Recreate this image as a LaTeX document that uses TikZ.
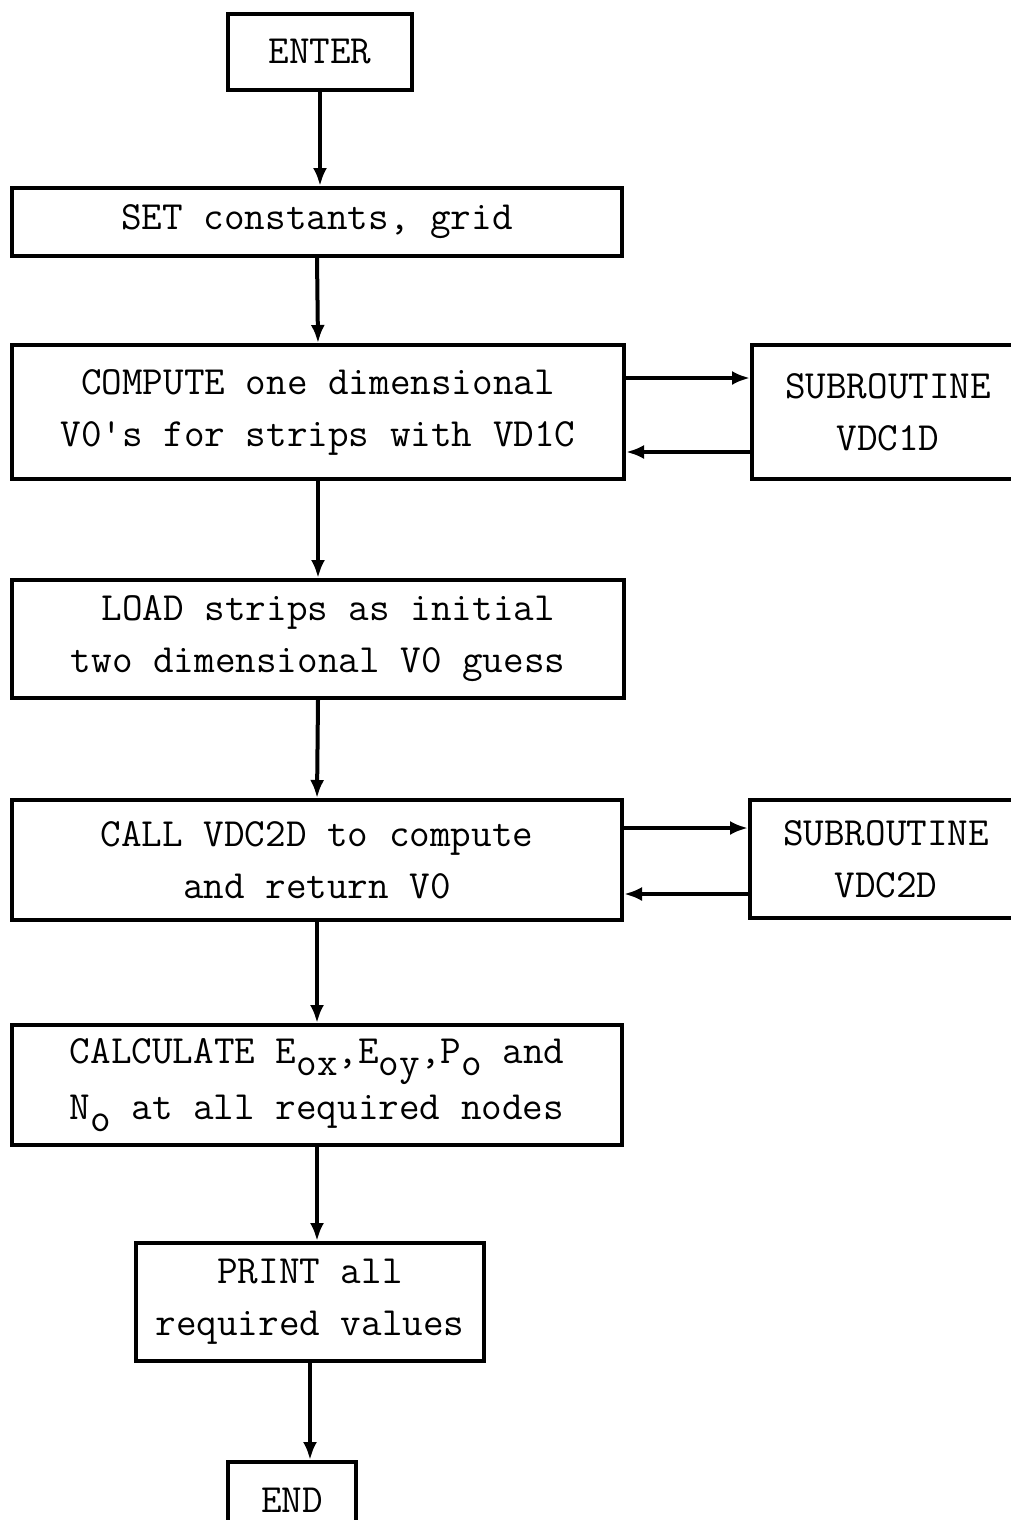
\documentclass[tikz,border=0pt]{standalone}
\usepackage{tikz}
\usetikzlibrary{positioning}
\usetikzlibrary{arrows.meta}

\newcommand{\lowtext}[1]{\raisebox{-0.3em}{#1}}

\begin{document}
\begin{tikzpicture}[x=0.5pt,y=-0.5pt,>={Latex[length=9pt,width=7pt]},line width=2pt,
    every node/.style={font=\ttfamily\fontsize{20}{26}\selectfont},
    box/.style={draw,rectangle,line width=2pt,align=center,inner sep=0pt}]
  \useasboundingbox (0,0) rectangle (1011,1520);

  \node[box,minimum width=92pt,minimum height=38pt]   (enter)   at (320,52)   {ENTER};
  \node[box,minimum width=305pt,minimum height=34pt]  (set)     at (317,222)  {SET constants, grid};
  \node[box,minimum width=306pt,minimum height=67pt]  (compute) at (318,412)  {COMPUTE one dimensional\\ V0's for strips with VD1C};
  \node[box,minimum width=136pt,minimum height=67pt]  (sub1)    at (888,412)  {SUBROUTINE\\ VDC1D};
  \node[box,minimum width=306pt,minimum height=59pt]  (load)    at (318,639)  {\ LOAD strips as initial\\two dimensional V0 guess};
  \node[box,minimum width=305pt,minimum height=60pt]  (call)    at (317,860)  {CALL VDC2D to compute\\and return V0};
  \node[box,minimum width=136pt,minimum height=59pt]  (sub2)    at (886,859)  {SUBROUTINE\\ VDC2D};
  \node[box,minimum width=305pt,minimum height=60pt,font=\ttfamily\fontsize{20}{28}\selectfont]
                                                      (calc)    at (317,1085) {CALCULATE E\lowtext{ox},E\lowtext{oy},P\lowtext{o} and\\ N\lowtext{o} at all required nodes};
  \node[box,minimum width=174pt,minimum height=59pt]  (print)   at (310,1302) {PRINT all\\required values};
  \node[box,minimum width=64pt,minimum height=38pt]   (end)     at (292,1500) {END};

  % main flow
  \draw[->] (enter.south) -- (enter.south |- set.north);
  \draw[->] (set.south) -- (compute.north);
  \draw[->] (compute.south) -- (load.north);
  \draw[->] (load.south) -- (call.north);
  \draw[->] (call.south) -- (calc.north);
  \draw[->] (calc.south) -- (calc.south |- print.north);
  \draw[->] (print.south) -- (print.south |- end.north);

  % subroutine calls
  \draw[->] ([yshift=17pt]compute.east) -- ([yshift=17pt]compute.east -| sub1.west);
  \draw[->] ([yshift=-20pt]compute.east -| sub1.west) -- ([yshift=-20pt]compute.east);
  \draw[->] ([yshift=16pt]call.east) -- ([yshift=16pt]call.east -| sub2.west);
  \draw[->] ([yshift=-17pt]call.east -| sub2.west) -- ([yshift=-17pt]call.east);
\end{tikzpicture}
\end{document}
